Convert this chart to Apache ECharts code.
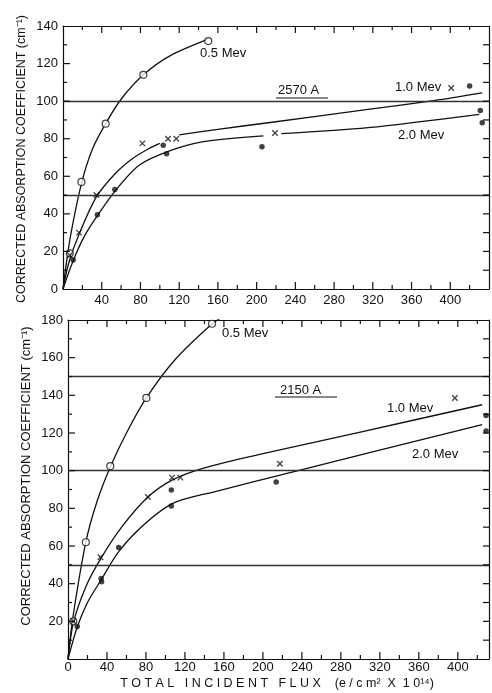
<!DOCTYPE html>
<html>
<head>
<meta charset="utf-8">
<script src="https://cdn.jsdelivr.net/npm/echarts@6/dist/echarts.min.js"></script>
<style>
html,body{margin:0;padding:0;background:#fff;}
#c{width:492px;height:693px;}
</style>
</head>
<body>
<div id="c"></div>
<script>
// ---------- DATA ----------
// Top panel (2570 A)
var topMev05X = [7, 19, 44, 83, 150];
var topMev05Y = [19, 57, 88, 114, 132];
var topMev10X = [7, 16.5, 34.5, 82, 108.5, 117, 219, 401];
var topMev10Y = [18, 30, 50, 77.5, 80, 80, 83, 107];
var topMev20X = [10.5, 35.5, 53.5, 103.5, 107, 205.5, 420, 431, 433];
var topMev20Y = [15.5, 39.5, 53, 76.5, 72, 75.7, 108, 95, 88.5];
// fitted curves
var topCurve05 = [[0,0],[3,12],[8,29],[19,56],[30,74],[44,88],[60,101],[83,114],[110,124],[150,133]];
var topCurve10 = [[0,0],[6,14],[16.5,29],[34.5,49],[55,62],[72,69.5],[88,74.5],[100,77.5],[null,null],[120,82],[160,85],[212,88.5],[315,95.6],[383,100.3],[433,104.4]];
var topCurve20 = [[0,0],[10.5,15],[22,28],[35.5,39],[53.5,52],[79,66],[110,73.5],[143.6,78.3],[207,81.5],[null,null],[225.6,82.7],[315,85.9],[430,93]];
var topRefLines = [50, 100];

// Bottom panel (2150 A)
var botMev05X = [5.4, 18.3, 43.4, 80.4, 147.8];
var botMev05Y = [20, 62, 102.4, 138.6, 178];
var botMev10X = [5.4, 33.3, 82, 106.8, 115.3, 217.4, 397];
var botMev10Y = [20, 54, 86, 96.3, 96.3, 103.7, 138.6];
var botMev20X = [9.5, 34, 34.5, 52, 106, 106, 213.6, 429, 429];
var botMev20Y = [17.3, 42.7, 41, 59.2, 89.7, 81.2, 94, 129.3, 121];
var botCurve05 = [[0,0],[5,22],[18.3,62],[30,84],[43.4,102],[60,120],[80.4,138.6],[110,159],[148,178],[160,182]];
var botCurve10 = [[0,0],[5.4,19],[18,38],[33.3,53],[55,70],[82,86],[106.8,95],[140,101.5],[200,109],[300,120.5],[425,135]];
var botCurve20 = [[0,0],[9.5,17],[20,30],[34,42],[52,57],[75,70],[107,82.5],[150,88.8],[232,99.5],[425,124.5]];
var botRefLines = [50, 100, 150];

// tick positions
var topXMajor = [40, 80, 120, 160, 200, 240, 280, 320, 360, 400];
var topXMinor = [20, 60, 100, 140, 180, 220, 260, 300, 340, 380, 420];
var topYMajor = [20, 40, 60, 80, 100, 120];
var topYMinor = [10, 30, 50, 70, 90, 110, 130];
var botXMajor = [40, 80, 120, 160, 200, 240, 280, 320, 360, 400];
var botXMinor = [20, 60, 100, 140, 180, 220, 260, 300, 340, 380, 420];
var botYMajor = [20, 40, 60, 80, 100, 120, 140, 160];
var botYMinor = [10, 30, 50, 70, 90, 110, 130, 150, 170];

// ---------- CHART ----------
var FONT = "'Liberation Sans', Arial, sans-serif";
var chart = echarts.init(document.getElementById('c'), null, {renderer: 'canvas'});
function zip(xs, ys){ return xs.map(function(x,i){ return [x, ys[i]]; }); }
var XMARK = 'path://M0,0L10,10M10,0L0,10';

function axisCommon(extra){
  var o = {
    axisLine: {show: true, onZero: false, lineStyle: {color: '#111', width: 1.2}},
    axisTick: {show: false},
    minorTick: {show: false},
    splitLine: {show: false},
    axisLabel: {show: false}
  };
  for (var k in extra) o[k] = extra[k];
  return o;
}
function labelStyle(fmt, margin){
  return {show: true, color: '#111', fontFamily: FONT, fontSize: 13, margin: margin, formatter: fmt};
}

var option = {
  animation: false,
  backgroundColor: '#fff',
  grid: [
    {left: 63, top: 26, width: 430, height: 263},
    {left: 68, top: 320, width: 425, height: 339}
  ],
  xAxis: [
    axisCommon({gridIndex: 0, type: 'value', min: 0, max: 440, interval: 40, position: 'bottom',
      axisLabel: labelStyle(function(v){ return (v === 0 || v > 400) ? '' : String(v); }, 5)}),
    axisCommon({gridIndex: 0, type: 'value', min: 0, max: 440, interval: 40, position: 'top'}),
    axisCommon({gridIndex: 1, type: 'value', min: 0, max: 432, interval: 40, position: 'bottom',
      axisLabel: labelStyle(function(v){ return (v > 400) ? '' : String(v); }, 2)}),
    axisCommon({gridIndex: 1, type: 'value', min: 0, max: 432, interval: 40, position: 'top'})
  ],
  yAxis: [
    axisCommon({gridIndex: 0, type: 'value', min: 0, max: 140, interval: 20, position: 'left',
      axisLabel: labelStyle(function(v){ return String(v); }, 5)}),
    axisCommon({gridIndex: 0, type: 'value', min: 0, max: 140, interval: 20, position: 'right'}),
    axisCommon({gridIndex: 1, type: 'value', min: 0, max: 180, interval: 20, position: 'left',
      axisLabel: labelStyle(function(v){ return v === 0 ? '' : String(v); }, 5)}),
    axisCommon({gridIndex: 1, type: 'value', min: 0, max: 180, interval: 20, position: 'right'})
  ],
  series: []
};

function curve(data, xi, yi){
  return {type: 'line', xAxisIndex: xi, yAxisIndex: yi, data: data, smooth: 0.3,
    showSymbol: false, symbol: 'none', clip: true, connectNulls: false,
    lineStyle: {color: '#111', width: 1.3}, silent: true, z: 2};
}
function refLines(vals, xi, yi){
  return {type: 'line', xAxisIndex: xi, yAxisIndex: yi, data: [], silent: true,
    markLine: {silent: true, symbol: ['none','none'], label: {show: false},
      lineStyle: {color: '#333', width: 1.3, type: 'solid'},
      data: vals.map(function(v){ return {yAxis: v}; })}};
}
function pts(xs, ys, kind, xi, yi){
  var s = {type: 'scatter', xAxisIndex: xi, yAxisIndex: yi, data: zip(xs, ys), z: 5, silent: true};
  if (kind === 'open') { s.symbol = 'circle'; s.symbolSize = 7; s.itemStyle = {color: '#fff', borderColor: '#111', borderWidth: 1.2}; }
  else if (kind === 'x') { s.symbol = XMARK; s.symbolSize = 5.5; s.itemStyle = {color: 'none', borderColor: '#111', borderWidth: 1.3}; }
  else { s.symbol = 'circle'; s.symbolSize = 5.5; s.itemStyle = {color: '#111'}; }
  return s;
}
// inward ticks on all four sides, positioned through the axes' own scales
function ticks(xi, yi, xMaj, xMin, yMaj, yMin, xMax, yMax){
  function seg(x1, y1, x2, y2){
    return {type: 'line', shape: {x1: x1, y1: y1, x2: x2, y2: y2}, style: {stroke: '#111', lineWidth: 1.2}};
  }
  return {type: 'custom', xAxisIndex: xi, yAxisIndex: yi, data: [[0, 0]], silent: true, clip: false, z: 6,
    renderItem: function(params, api){
      var ch = [];
      var bl = api.coord([0, 0]), tr = api.coord([xMax, yMax]);
      xMaj.forEach(function(v){ var p = api.coord([v, 0]); ch.push(seg(p[0], bl[1], p[0], bl[1] - 7)); ch.push(seg(p[0], tr[1], p[0], tr[1] + 7)); });
      xMin.forEach(function(v){ var p = api.coord([v, 0]); ch.push(seg(p[0], bl[1], p[0], bl[1] - 4)); ch.push(seg(p[0], tr[1], p[0], tr[1] + 4)); });
      yMaj.forEach(function(v){ var p = api.coord([0, v]); ch.push(seg(bl[0], p[1], bl[0] + 7, p[1])); ch.push(seg(tr[0], p[1], tr[0] - 6, p[1])); });
      yMin.forEach(function(v){ var p = api.coord([0, v]); ch.push(seg(bl[0], p[1], bl[0] + 4, p[1])); ch.push(seg(tr[0], p[1], tr[0] - 6, p[1])); });
      return {type: 'group', children: ch};
    }};
}

option.series.push(refLines(topRefLines, 0, 0));
option.series.push(curve(topCurve05, 0, 0));
option.series.push(curve(topCurve10, 0, 0));
option.series.push(curve(topCurve20, 0, 0));
option.series.push(pts(topMev05X, topMev05Y, 'open', 0, 0));
option.series.push(pts(topMev10X, topMev10Y, 'x', 0, 0));
option.series.push(pts(topMev20X, topMev20Y, 'dot', 0, 0));
option.series.push(ticks(0, 0, topXMajor, topXMinor, topYMajor, topYMinor, 440, 140));

option.series.push(refLines(botRefLines, 2, 2));
option.series.push(curve(botCurve05, 2, 2));
option.series.push(curve(botCurve10, 2, 2));
option.series.push(curve(botCurve20, 2, 2));
option.series.push(pts(botMev05X, botMev05Y, 'open', 2, 2));
option.series.push(pts(botMev10X, botMev10Y, 'x', 2, 2));
option.series.push(pts(botMev20X, botMev20Y, 'dot', 2, 2));
option.series.push(ticks(2, 2, botXMajor, botXMinor, botYMajor, botYMinor, 432, 180));

function txt(s, x, y, size){
  return {type: 'text', x: x, y: y, z: 10, silent: true,
    style: {text: s, fill: '#111', font: (size || 13) + 'px ' + FONT, textAlign: 'left', textVerticalAlign: 'middle'}};
}
var YTITLE = 'CORRECTED ABSORPTION COEFFICIENT (cm\u207B\u00B9)';
option.graphic = [
  // top annotations
  txt('0.5 Mev', 200, 53, 13),
  txt('2570 A', 278, 90, 13),
  {type: 'line', shape: {x1: 276, y1: 98, x2: 328, y2: 98}, style: {stroke: '#111', lineWidth: 1}, silent: true},
  txt('1.0 Mev', 395, 87, 13),
  txt('2.0 Mev', 398, 135, 13),
  // bottom annotations
  txt('0.5 Mev', 222, 333, 13),
  txt('2150 A', 280, 390, 13),
  {type: 'line', shape: {x1: 275, y1: 397, x2: 337, y2: 397}, style: {stroke: '#111', lineWidth: 1}, silent: true},
  txt('1.0 Mev', 387, 408, 13),
  txt('2.0 Mev', 412, 454, 13),
  // y titles
  {type: 'text', x: 22, y: 159, rotation: Math.PI / 2, silent: true,
    style: {text: YTITLE, fill: '#111', font: '12.5px ' + FONT, textAlign: 'center', textVerticalAlign: 'middle'}},
  {type: 'text', x: 26, y: 476, rotation: Math.PI / 2, silent: true,
    style: {text: YTITLE, fill: '#111', font: '13px ' + FONT, textAlign: 'center', textVerticalAlign: 'middle'}},
  // x title
  {type: 'text', x: 277, y: 684, silent: true,
    style: {text: 'T O T A L   I N C I D E N T   F L U X    (e / c m\u00B2  X  1 0\u00B9\u2074)', fill: '#111', font: '12.5px ' + FONT, textAlign: 'center', textVerticalAlign: 'middle'}}
];

chart.setOption(option);
</script>
</body>
</html>
